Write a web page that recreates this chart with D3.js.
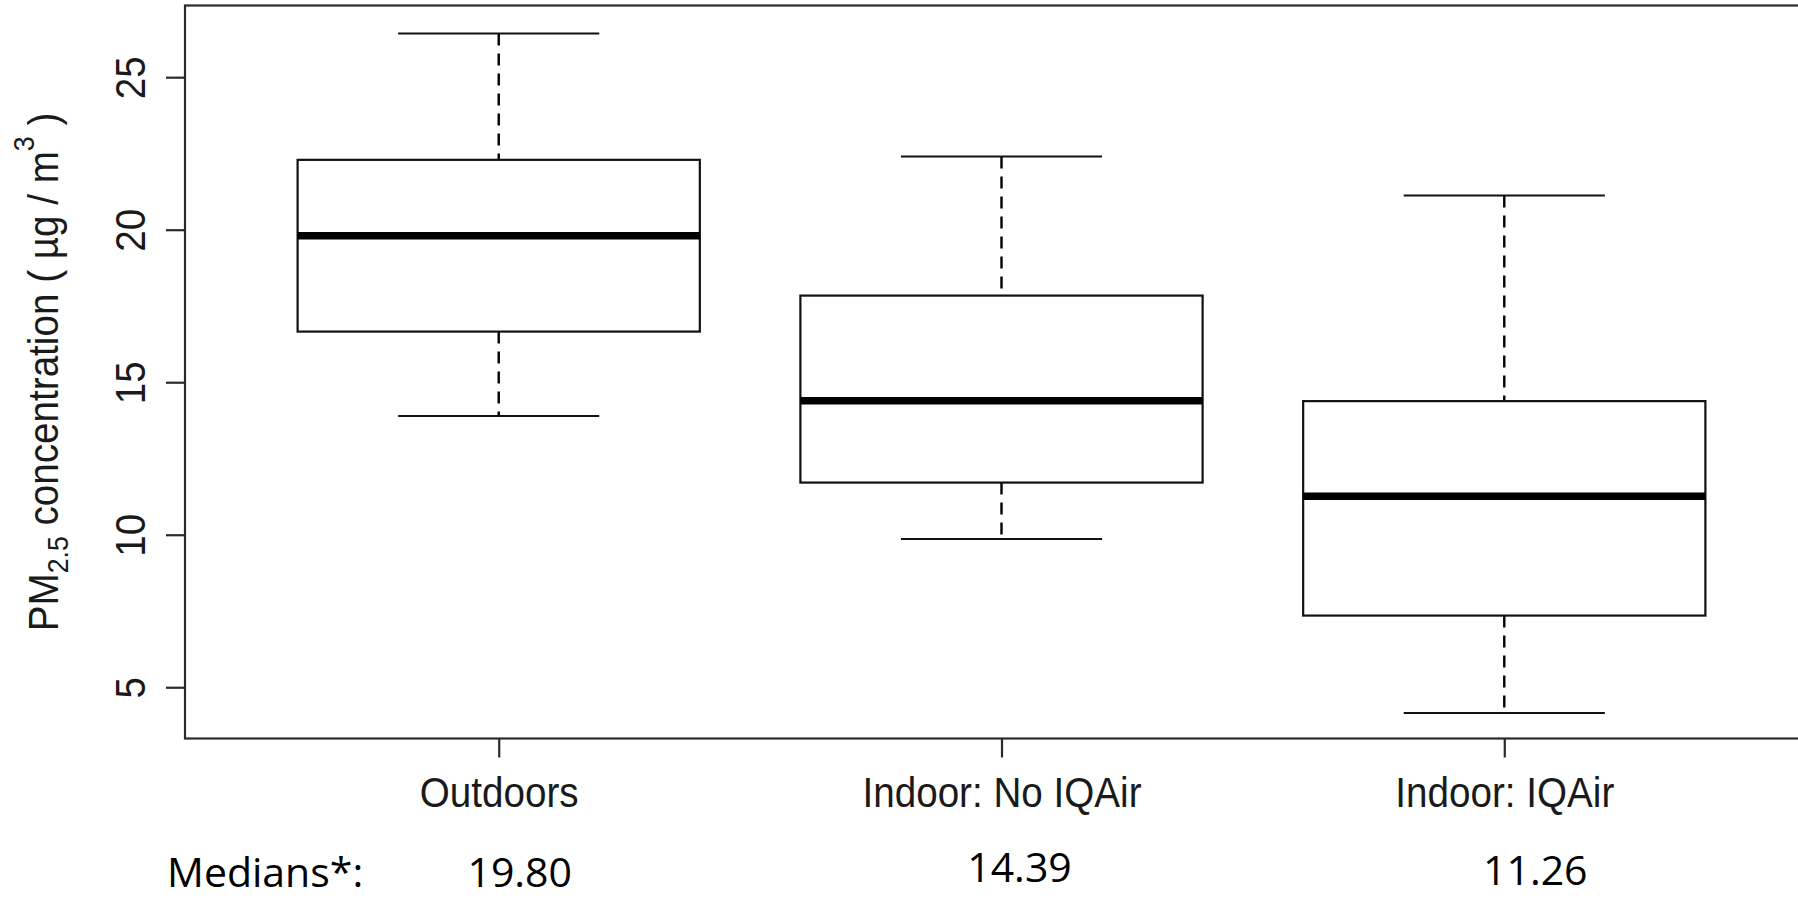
<!DOCTYPE html>
<html>
<head>
<meta charset="utf-8">
<script src="https://cdn.jsdelivr.net/npm/d3@7"></script>
<style>
  body { margin: 0; background: #fff; }
  svg { display: block; }
  .rtext { font-family: "Liberation Sans", Arial, sans-serif; font-size: 42px; fill: #1a1a1a; }
  .note { font-family: "Open Sans", sans-serif; font-size: 41px; fill: #000; }
</style>
</head>
<body>
<script>
var width = 1798, height = 899;

//Data
var categories = ["Outdoors", "Indoor: No IQAir", "Indoor: IQAir"];
var lowWhisker = [13.89, 9.86, 4.16];
var q1 = [16.66, 11.71, 7.35];
var medians = [19.80, 14.39, 11.26];
var q3 = [22.29, 17.84, 14.38];
var highWhisker = [26.43, 22.40, 21.12];
var yTicks = [5, 10, 15, 20, 25];
var medianLabels = ["19.80", "14.39", "11.26"];

//Layout
var plot = {left: 185, top: 5.5, right: 1816, bottom: 738.5};
var medianNudge = [[21, 0], [18, -5], [31, -2]]; //hand-placed labels in the original

var boxes = categories.map(function(c, i) {
  return {cat: c, pos: i + 1, lo: lowWhisker[i], q1: q1[i], med: medians[i], q3: q3[i], hi: highWhisker[i]};
});

var x = d3.scaleLinear().domain([0.38, 3.62]).range([plot.left + 2, plot.right]);
var y = d3.scaleLinear().domain([3.32, 27.35]).range([plot.bottom, plot.top]);

var unit = x(2) - x(1);
var boxW = unit * 0.8, capW = unit * 0.4;

var svg = d3.select("body").append("svg").attr("width", width).attr("height", height);

//Boxes
var g = svg.append("g").selectAll("g").data(boxes).enter().append("g");

//dashed whiskers
g.append("line")
  .attr("x1", function(d) { return x(d.pos); }).attr("x2", function(d) { return x(d.pos); })
  .attr("y1", function(d) { return y(d.hi); }).attr("y2", function(d) { return y(d.q3); })
  .attr("stroke", "#000").attr("stroke-width", 2.4).attr("stroke-dasharray", "12,8");
g.append("line")
  .attr("x1", function(d) { return x(d.pos); }).attr("x2", function(d) { return x(d.pos); })
  .attr("y1", function(d) { return y(d.q1); }).attr("y2", function(d) { return y(d.lo); })
  .attr("stroke", "#000").attr("stroke-width", 2.4).attr("stroke-dasharray", "12,8");

//caps
g.selectAll(".cap").data(function(d) { return [[d.pos, d.hi], [d.pos, d.lo]]; })
  .enter().append("line").attr("class", "cap")
  .attr("x1", function(d) { return x(d[0]) - capW / 2; })
  .attr("x2", function(d) { return x(d[0]) + capW / 2; })
  .attr("y1", function(d) { return y(d[1]); }).attr("y2", function(d) { return y(d[1]); })
  .attr("stroke", "#111").attr("stroke-width", 2);

g.append("rect")
  .attr("x", function(d) { return x(d.pos) - boxW / 2; })
  .attr("width", boxW)
  .attr("y", function(d) { return y(d.q3); })
  .attr("height", function(d) { return y(d.q1) - y(d.q3); })
  .attr("fill", "#fff").attr("stroke", "#111").attr("stroke-width", 2.2);

g.append("line")
  .attr("x1", function(d) { return x(d.pos) - boxW / 2; })
  .attr("x2", function(d) { return x(d.pos) + boxW / 2; })
  .attr("y1", function(d) { return y(d.med); }).attr("y2", function(d) { return y(d.med); })
  .attr("stroke", "#000").attr("stroke-width", 7.5);

//Frame
svg.append("rect")
  .attr("x", plot.left).attr("y", plot.top)
  .attr("width", plot.right - plot.left).attr("height", plot.bottom - plot.top)
  .attr("fill", "none").attr("stroke", "#2a2a2a").attr("stroke-width", 2.2);

//Y axis, labels rotated like R's las=0
var yAxis = svg.append("g").attr("transform", "translate(" + plot.left + ",0)")
  .call(d3.axisLeft(y).tickValues(yTicks).tickSize(19).tickSizeOuter(0));
yAxis.select(".domain").remove();
yAxis.selectAll("line").attr("stroke", "#2a2a2a").attr("stroke-width", 2.2);
yAxis.selectAll("text")
  .attr("class", "rtext").attr("fill", null)
  .attr("x", null).attr("dy", null)
  .attr("text-anchor", "middle")
  .attr("transform", "translate(-40,0) rotate(-90) scale(0.92,1)");
yAxis.attr("font-size", null).attr("font-family", null);

//X axis
var xAxis = svg.append("g").attr("transform", "translate(0," + plot.bottom + ")")
  .call(d3.axisBottom(x).tickValues([1, 2, 3]).tickSize(19).tickSizeOuter(0)
    .tickFormat(function(d) { return categories[d - 1]; }));
xAxis.select(".domain").remove();
xAxis.selectAll("line").attr("stroke", "#2a2a2a").attr("stroke-width", 2.2);
xAxis.selectAll("text")
  .attr("class", "rtext").attr("fill", null)
  .attr("y", 68.5).attr("dy", null)
  .attr("transform", "scale(0.92,1)");
xAxis.attr("font-size", null).attr("font-family", null);

//Y title with sub/superscript
var ylab = svg.append("text").attr("class", "rtext")
  .attr("text-anchor", "middle")
  .attr("transform", "translate(58,372) rotate(-90) scale(0.92,1)");
ylab.append("tspan").text("PM");
ylab.append("tspan").attr("font-size", "29px").attr("dy", 10).text("2.5");
ylab.append("tspan").attr("dy", -10).text(" concentration ( \u00b5g / m");
ylab.append("tspan").attr("font-size", "29px").attr("dy", -24).text("3");
ylab.append("tspan").attr("dy", 24).text(" )");

//Medians annotation
svg.append("text").attr("class", "note").attr("x", 167).attr("y", 887).text("Medians*:");
svg.append("g").selectAll("text").data(medianLabels).enter().append("text")
  .attr("class", "note").attr("text-anchor", "middle")
  .attr("x", function(d, i) { return x(i + 1) + medianNudge[i][0]; })
  .attr("y", function(d, i) { return 887 + medianNudge[i][1]; })
  .text(function(d) { return d; });
</script>
</body>
</html>
